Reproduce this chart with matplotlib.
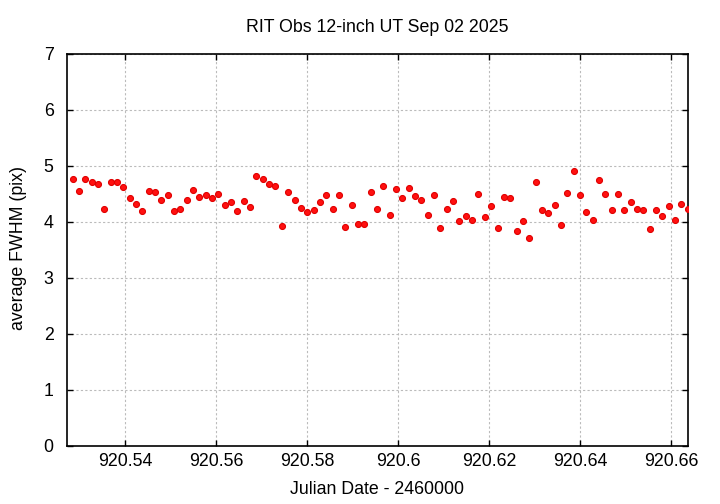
import matplotlib
matplotlib.use("Agg")
import matplotlib.pyplot as plt

plt.rcParams['font.family'] = ['Liberation Sans', 'DejaVu Sans']

title = "RIT Obs 12-inch UT Sep 02 2025"
xlabel = "Julian Date - 2460000"
ylabel = "average FWHM (pix)"

jd = [920.52844, 920.52982, 920.53121, 920.53262, 920.53400, 920.53538, 920.53679, 920.53818,
      920.53956, 920.54097, 920.54235, 920.54374, 920.54514, 920.54653, 920.54791, 920.54932,
      920.55070, 920.55209, 920.55349, 920.55488, 920.55626, 920.55767, 920.55905, 920.56044,
      920.56185, 920.56323, 920.56462, 920.56602, 920.56741, 920.56879, 920.57020, 920.57158,
      920.57297, 920.57444, 920.57582, 920.57723, 920.57862, 920.58000, 920.58141, 920.58279,
      920.58418, 920.58558, 920.58697, 920.58835, 920.58976, 920.59114, 920.59253, 920.59393,
      920.59532, 920.59670, 920.59811, 920.59949, 920.60088, 920.60229, 920.60367, 920.60505,
      920.60646, 920.60785, 920.60923, 920.61064, 920.61202, 920.61341, 920.61481, 920.61620,
      920.61758, 920.61905, 920.62044, 920.62185, 920.62323, 920.62462, 920.62602, 920.62741,
      920.62879, 920.63020, 920.63158, 920.63297, 920.63437, 920.63576, 920.63714, 920.63855,
      920.63993, 920.64132, 920.64273, 920.64411, 920.64549, 920.64690, 920.64829, 920.64967,
      920.65108, 920.65246, 920.65385, 920.65525, 920.65664, 920.65802, 920.65943, 920.66081,
      920.66220, 920.66360]

fwhm = [4.77, 4.56, 4.76, 4.71, 4.67, 4.24, 4.71, 4.71,
        4.63, 4.43, 4.33, 4.19, 4.55, 4.54, 4.39, 4.49,
        4.20, 4.23, 4.40, 4.58, 4.45, 4.49, 4.42, 4.50,
        4.30, 4.35, 4.20, 4.375, 4.27, 4.83, 4.76, 4.67,
        4.64, 3.93, 4.53, 4.39, 4.25, 4.18, 4.21, 4.36,
        4.48, 4.23, 4.49, 3.91, 4.31, 3.97, 3.97, 4.53,
        4.24, 4.64, 4.13, 4.59, 4.42, 4.61, 4.46, 4.39,
        4.12, 4.49, 3.89, 4.23, 4.375, 4.01, 4.10, 4.03,
        4.50, 4.09, 4.28, 3.89, 4.45, 4.43, 3.84, 4.02,
        3.71, 4.71, 4.21, 4.16, 4.31, 3.95, 4.52, 4.91,
        4.48, 4.18, 4.03, 4.75, 4.50, 4.21, 4.50, 4.21,
        4.36, 4.24, 4.21, 3.87, 4.21, 4.10, 4.29, 4.03,
        4.33, 4.23]

xticks = [920.54, 920.56, 920.58, 920.60, 920.62, 920.64, 920.66]
xticklabels = ["920.54", "920.56", "920.58", "920.6", "920.62", "920.64", "920.66"]
yticks = [0, 1, 2, 3, 4, 5, 6, 7]

W, H = 720, 504
fig = plt.figure(figsize=(W / 100, H / 100), dpi=100)
left, right, top, bottom = 66.7, 688, 54, 446
ax = fig.add_axes([left / W, 1 - bottom / H, (right - left) / W, (bottom - top) / H])

ax.plot(jd, fwhm, linestyle='none', marker='o', markersize=4.3,
        markerfacecolor='#ff1010', markeredgecolor='#e00000', markeredgewidth=0.8, zorder=3)

ax.set_xlim(920.52712, 920.6637)
ax.set_ylim(0, 7)
ax.set_xticks(xticks)
ax.set_xticklabels(xticklabels)
ax.set_yticks(yticks)
ax.tick_params(direction='in', length=4.5, width=1, top=True, right=True,
               labelsize=12.8, colors='black')
ax.tick_params(axis='x', pad=5)
ax.tick_params(axis='y', pad=9.5)
ax.grid(True, color='#bbbbbb', linestyle=(0, (2, 2)), linewidth=0.8)
for s in ax.spines.values():
    s.set_linewidth(1.2)
    s.set_color('black')

fig.text(377 / W, 1 - 27.5 / H, title, ha='center', va='center', fontsize=12.8)
fig.text(377 / W, 1 - 489 / H, xlabel, ha='center', va='center', fontsize=12.8)
fig.text(18.5 / W, 1 - 248 / H, ylabel, ha='center', va='center', rotation=90, fontsize=12.8)

fig.savefig("out.png", dpi=100)
